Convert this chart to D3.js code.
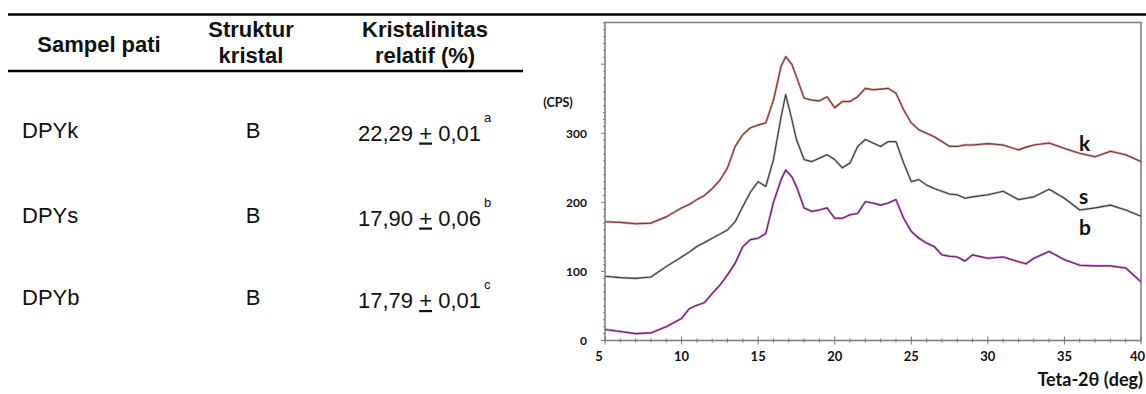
<!DOCTYPE html>
<html>
<head>
<meta charset="utf-8">
<script src="https://cdn.jsdelivr.net/npm/d3@7"></script>
<style>
  body { margin: 0; background: #fff; }
  svg { display: block; }
  .tbl { font-family: "Liberation Sans", Arial, sans-serif; fill: #111; }
  .chart text { font-family: Lato, "Open Sans", sans-serif; font-weight: 700; fill: #111; }
</style>
</head>
<body>
<svg id="fig" width="1146" height="394"></svg>
<script>
// table content
const HEADERS = [["Sampel pati"], ["Struktur", "kristal"], ["Kristalinitas", "relatif (%)"]];
const SAMPLES = ["DPYk", "DPYs", "DPYb"];
const STRUCTURE = ["B", "B", "B"];
const CRYST_MEAN = ["22,29", "17,90", "17,79"];
const CRYST_SD = ["0,01", "0,06", "0,01"];
const CRYST_GROUP = ["a", "b", "c"];

// XRD diffractograms (2θ in deg, intensity in CPS as plotted)
const THETA = [5, 6, 7, 8, 9, 10, 10.5, 11, 11.5, 12, 12.5, 13, 13.5, 14, 14.5, 15, 15.5, 16, 16.5, 16.8, 17.2, 17.5, 18, 18.5, 19, 19.5, 20, 20.5, 21, 21.5, 22, 22.5, 23, 23.5, 24, 24.5, 25, 25.5, 26, 26.5, 27, 27.5, 28, 28.5, 29, 30, 31, 32, 32.5, 33, 34, 35, 36, 37, 38, 39, 40];
const CPS_K = [172, 171, 169, 170, 179, 192, 197, 204, 210, 220, 232, 250, 281, 298, 308, 312, 315, 348, 397, 411, 400, 382, 351, 348, 347, 353, 337, 346, 346, 353, 365, 363, 364, 365, 358, 334, 315, 305, 300, 295, 288, 281, 281, 283, 283, 285, 283, 276, 280, 283, 286, 278, 271, 266, 274, 269, 259];
const CPS_S = [93, 91, 90, 92, 107, 121, 128, 136, 142, 148, 154, 160, 172, 194, 215, 230, 223, 262, 324, 356, 320, 291, 262, 259, 264, 269, 262, 250, 257, 281, 291, 286, 281, 288, 288, 257, 230, 233, 225, 220, 216, 212, 211, 206, 208, 211, 216, 204, 206, 208, 219, 206, 189, 192, 196, 189, 180];
const CPS_B = [16, 13, 10, 11, 20, 32, 46, 51, 55, 68, 80, 95, 112, 136, 146, 148, 155, 200, 233, 247, 237, 223, 192, 187, 189, 192, 177, 177, 182, 184, 201, 199, 196, 199, 204, 177, 158, 148, 141, 136, 124, 122, 121, 115, 124, 119, 121, 114, 111, 119, 129, 117, 109, 108, 108, 105, 85];
const CURVE_NAMES = ["k", "s", "b"];
const CURVE_LABEL_CPS = [275, 197, 153];
const X_TICKS = [5, 10, 15, 20, 25, 30, 35, 40];
const Y_TICKS = [0, 100, 200, 300];

const svg = d3.select("#fig");

// ---------- table ----------
const tbl = svg.append("g").attr("class", "tbl");
tbl.append("line").attr("x1", 8).attr("x2", 1146).attr("y1", 14.5).attr("y2", 14.5).attr("stroke", "#000").attr("stroke-width", 2.5);
tbl.append("line").attr("x1", 8).attr("x2", 523).attr("y1", 71).attr("y2", 71).attr("stroke", "#000").attr("stroke-width", 2.5);

const colX = [99, 251, 425];
HEADERS.forEach((lines, i) => {
  const t = tbl.append("text").attr("x", colX[i]).attr("text-anchor", "middle")
    .attr("font-size", 22).attr("font-weight", 700);
  const y0 = lines.length === 1 ? 52 : 37;
  lines.forEach((s, j) => t.append("tspan").attr("x", colX[i]).attr("y", y0 + j * 26).text(s));
});

const rowY = [140.5, 225.5, 308];
SAMPLES.forEach((s, i) => {
  tbl.append("text").attr("x", 22).attr("y", rowY[i] - 3).attr("font-size", 22).text(s);
  tbl.append("text").attr("x", 253).attr("y", rowY[i] - 3).attr("font-size", 22)
    .attr("text-anchor", "middle").text(STRUCTURE[i]);
  const v = tbl.append("text").attr("x", 358).attr("y", rowY[i]).attr("font-size", 22);
  v.append("tspan").text(CRYST_MEAN[i] + " ");
  v.append("tspan").style("text-decoration", "underline").text("+");
  v.append("tspan").text(" " + CRYST_SD[i]);
  v.append("tspan").attr("dx", 3).attr("dy", -19).attr("font-size", 13).text(CRYST_GROUP[i]);
});

// ---------- chart ----------
const g = svg.append("g").attr("class", "chart");
const x = d3.scaleLinear().domain([5, 40]).range([605, 1141]);
const y = d3.scaleLinear().domain([0, 300]).range([340.5, 133.3]);
const plotTop = 22.5;

g.append("rect").attr("x", x(5)).attr("y", plotTop).attr("width", x(40) - x(5)).attr("height", y(0) - plotTop)
  .attr("fill", "none").attr("stroke", "#808080").attr("stroke-width", 1.6);

// minor ticks on x and y axes
const xMinor = d3.range(5, 40.01, 1);
g.append("g").selectAll("line").data(xMinor).join("line")
  .attr("x1", d => x(d)).attr("x2", d => x(d))
  .attr("y1", d => y(0) - (d % 5 === 0 ? 4 : 2)).attr("y2", d => y(0) + (d % 5 === 0 ? 4 : 2))
  .attr("stroke", "#6d7a6d").attr("stroke-width", 1);
const yMinor = d3.range(0, 461, 10);
g.append("g").selectAll("line").data(yMinor).join("line")
  .attr("x1", d => x(5) - (d % 100 === 0 ? 4 : 2)).attr("x2", x(5))
  .attr("y1", d => y(d)).attr("y2", d => y(d))
  .attr("stroke", "#808080").attr("stroke-width", 1);

g.append("g").selectAll("text").data(X_TICKS).join("text")
  .attr("x", d => d === 40 ? 1145 : (d === 5 ? x(d) - 6 : x(d))).attr("y", 361)
  .attr("text-anchor", d => d === 40 ? "end" : "middle")
  .attr("font-size", 13).text(d => d);
g.append("g").selectAll("text").data(Y_TICKS).join("text")
  .attr("x", 587).attr("y", d => y(d)).attr("dy", "0.35em")
  .attr("text-anchor", "end").attr("font-size", 12).text(d => d);

g.append("text").attr("x", 558).attr("y", 107).attr("text-anchor", "middle").attr("font-size", 12.5).text("(CPS)");
g.append("text").attr("x", 1143).attr("y", 386).attr("text-anchor", "end").attr("font-size", 18).text("Teta-2θ (deg)");

const series = [
  { name: CURVE_NAMES[0], vals: CPS_K, halo: "#e08a8a", color: "#6e3a35" },
  { name: CURVE_NAMES[1], vals: CPS_S, halo: "#a9b0b8", color: "#3c3c3c" },
  { name: CURVE_NAMES[2], vals: CPS_B, halo: "#d56fd5", color: "#5e2258" }
];
const line = d3.line().x(d => x(d[0])).y(d => y(d[1]));
series.forEach((s, i) => {
  const pts = THETA.map((t, j) => [t, s.vals[j]]);
  g.append("path").datum(pts).attr("d", line).attr("fill", "none")
    .attr("stroke", s.halo).attr("stroke-width", 2.4).attr("stroke-linejoin", "round").attr("opacity", 0.8);
  g.append("path").datum(pts).attr("d", line).attr("fill", "none")
    .attr("stroke", s.color).attr("stroke-width", 1.1).attr("stroke-linejoin", "round");
  g.append("text").attr("x", 1079).attr("y", y(CURVE_LABEL_CPS[i])).attr("font-size", 21).text(s.name);
});
</script>
</body>
</html>
